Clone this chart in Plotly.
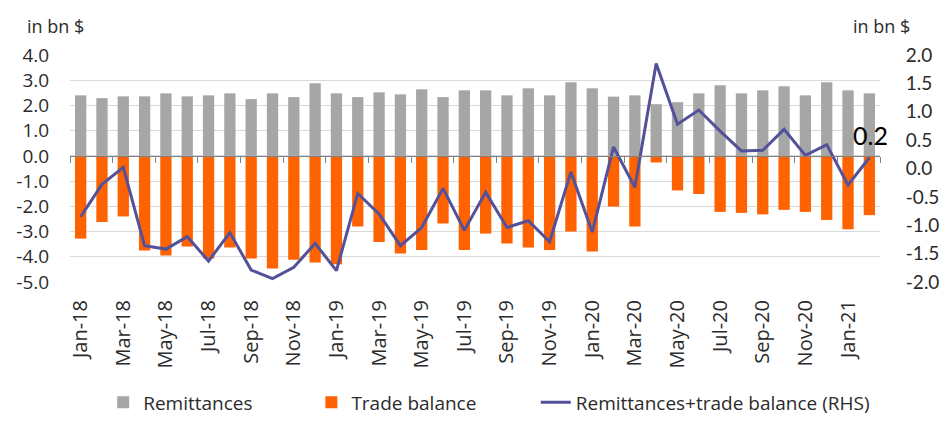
import plotly.graph_objs as go

# monthly data, bn $
months = ['Jan-18', 'Feb-18', 'Mar-18', 'Apr-18', 'May-18', 'Jun-18',
          'Jul-18', 'Aug-18', 'Sep-18', 'Oct-18', 'Nov-18', 'Dec-18',
          'Jan-19', 'Feb-19', 'Mar-19', 'Apr-19', 'May-19', 'Jun-19',
          'Jul-19', 'Aug-19', 'Sep-19', 'Oct-19', 'Nov-19', 'Dec-19',
          'Jan-20', 'Feb-20', 'Mar-20', 'Apr-20', 'May-20', 'Jun-20',
          'Jul-20', 'Aug-20', 'Sep-20', 'Oct-20', 'Nov-20', 'Dec-20',
          'Jan-21', 'Feb-21']

remittances = [2.40, 2.29, 2.36, 2.36, 2.48, 2.36, 2.40, 2.48, 2.25, 2.48,
               2.33, 2.88, 2.48, 2.33, 2.52, 2.44, 2.64, 2.33, 2.60, 2.60,
               2.40, 2.68, 2.40, 2.92, 2.68, 2.35, 2.40, 2.05, 2.13, 2.48,
               2.80, 2.48, 2.60, 2.76, 2.40, 2.92, 2.60, 2.48]

trade_balance = [-3.28, -2.62, -2.40, -3.75, -3.95, -3.59, -4.07, -3.63,
                 -4.07, -4.46, -4.12, -4.23, -4.30, -2.80, -3.41, -3.87,
                 -3.73, -2.68, -3.73, -3.08, -3.47, -3.63, -3.73, -3.00,
                 -3.79, -2.01, -2.80, -0.26, -1.37, -1.51, -2.22, -2.26,
                 -2.32, -2.14, -2.22, -2.54, -2.91, -2.35]

combined = [-0.85, -0.28, 0.02, -1.36, -1.42, -1.20, -1.63, -1.13, -1.79,
            -1.94, -1.74, -1.32, -1.80, -0.44, -0.80, -1.36, -1.04, -0.35,
            -1.09, -0.42, -1.04, -0.92, -1.29, -0.06, -1.12, 0.38, -0.33,
            1.85, 0.78, 1.03, 0.66, 0.31, 0.32, 0.69, 0.23, 0.42, -0.29,
            0.19]

left_ticks = [4, 3, 2, 1, 0, -1, -2, -3, -4, -5]
right_ticks = [2, 1.5, 1, 0.5, 0, -0.5, -1, -1.5, -2]

colors = {
    'remit': '#A6A6A6',
    'trade': '#FF6200',
    'line': '#525199',
    'grid': '#D9D9D9',
    'axis': '#808080',
    'text': '#2b2b2b',
}

font_main = 'Open Sans'
font_calibri = 'Lato'
clear = 'rgba(0,0,0,0)'

x = list(range(len(months)))

fig = go.Figure()
fig.add_trace(go.Bar(x=x, y=remittances, name='Remittances',
                     marker_color=colors['remit'], marker_line_width=0,
                     legend='legend'))
fig.add_trace(go.Bar(x=x, y=trade_balance, name='Trade balance',
                     marker_color=colors['trade'], marker_line_width=0,
                     legend='legend2'))
fig.add_trace(go.Scatter(x=x, y=combined, yaxis='y2', mode='lines',
                         name='Remittances+trade balance (RHS)',
                         line=dict(color=colors['line'], width=3),
                         legend='legend3'))
# invisible trace so the category axis at zero gets drawn
fig.add_trace(go.Scatter(x=[x[0]], y=[0], xaxis='x2', mode='markers',
                         marker_opacity=0, showlegend=False,
                         hoverinfo='skip'))

fig.add_annotation(x=x[-1], y=combined[-1], xref='x', yref='y2',
                   text=f'{combined[-1]:.1f}', showarrow=False,
                   xanchor='center', yanchor='bottom', xshift=1, yshift=6,
                   font=dict(family=font_calibri, size=25, color='#000000'))

for xpos, shift in [(0, -45), (1, -29)]:
    fig.add_annotation(x=xpos, y=1, xref='paper', yref='paper',
                       text='in bn $', showarrow=False, xanchor='left',
                       yanchor='middle', xshift=shift, yshift=29,
                       font=dict(family=font_main, size=18,
                                 color=colors['text']))

legend_style = dict(orientation='h', xanchor='left', y=-0.53,
                    yanchor='middle', bgcolor=clear,
                    font=dict(family=font_main, size=19,
                              color=colors['text']))

xrange = [-0.5, len(months) - 0.5]
fig.update_layout(
    width=952, height=438,
    margin=dict(l=70, r=72, t=55, b=156, autoexpand=False),
    plot_bgcolor='white', paper_bgcolor='white',
    font=dict(family=font_main, size=18, color=colors['text']),
    barmode='overlay', bargap=0.47,
    showlegend=True,
    legend=dict(x=0.041, **legend_style),
    legend2=dict(x=0.298, **legend_style),
    legend3=dict(x=0.575, **legend_style),
    xaxis=dict(range=xrange, tickmode='array', tickvals=x[::2],
               ticktext=months[::2], tickangle=-90, showgrid=False,
               zeroline=False, showline=False, ticks='outside',
               ticklen=9, tickcolor=clear, automargin=False,
               tickfont=dict(size=20)),
    xaxis2=dict(range=xrange, overlaying='x', anchor='free',
                position=5 / 9, tickmode='array',
                tickvals=[v - 0.5 for v in x[::2]] + [xrange[1]],
                showticklabels=False, ticks='outside', ticklen=6,
                tickcolor=colors['axis'], showline=True,
                linecolor=colors['axis'], linewidth=1, showgrid=False,
                zeroline=False),
    yaxis=dict(range=[-5, 4], tickmode='array', tickvals=left_ticks,
               ticktext=[f'{v:.1f}' for v in left_ticks],
               gridcolor=colors['grid'], gridwidth=1, zeroline=False,
               showline=False, ticks='outside', ticklen=16,
               tickcolor=clear, automargin=False,
               tickfont=dict(size=19)),
    yaxis2=dict(range=[-2, 2], overlaying='y', side='right',
                tickmode='array', tickvals=right_ticks,
                ticktext=[f'{v:.1f}' for v in right_ticks],
                showgrid=False, zeroline=False, showline=False,
                ticks='outside', ticklen=17, tickcolor=clear,
                ticklabelstandoff=4, automargin=False,
                tickfont=dict(family=font_calibri, size=19)),
)

# the browser's default body margin would shift the figure by 8px
fig.write_html('out.html', config={'displayModeBar': False},
               post_script="document.body.style.margin='0';")
